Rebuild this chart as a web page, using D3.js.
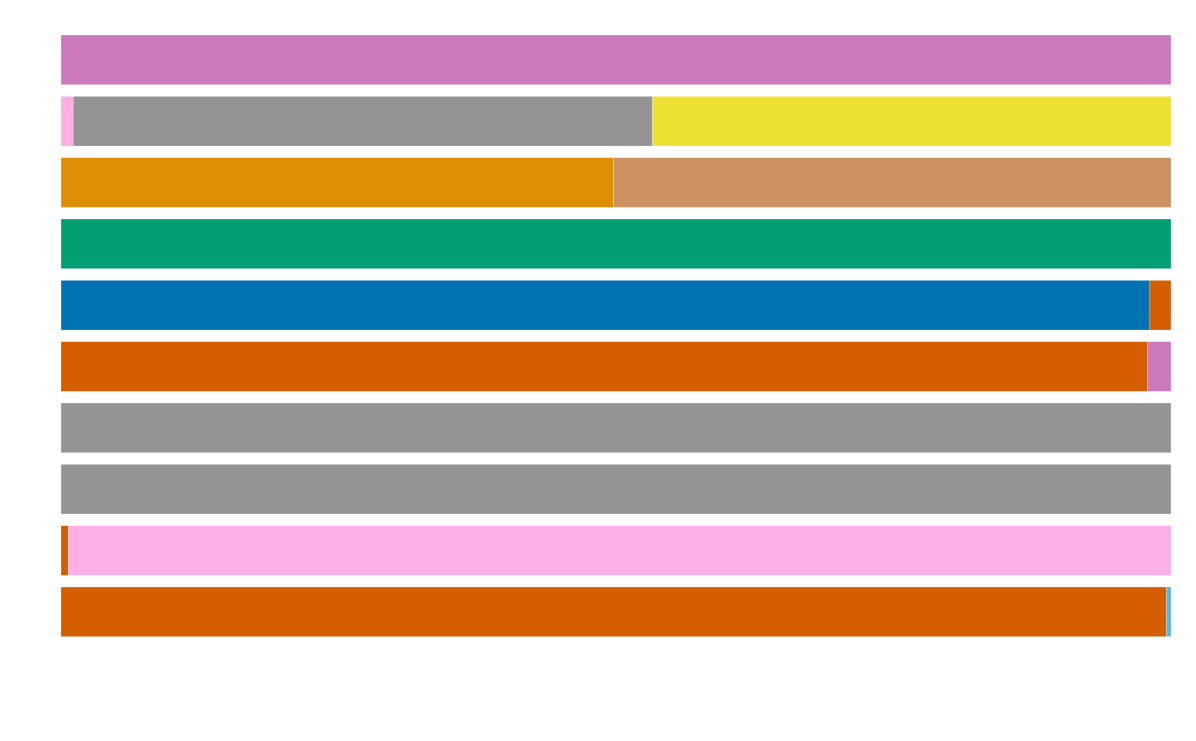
<!DOCTYPE html>
<html>
<head>
<meta charset="utf-8">
<script src="https://cdn.jsdelivr.net/npm/d3@7"></script>
<style>
  html, body { margin: 0; padding: 0; background: #fff; }
  svg { display: block; }
</style>
</head>
<body>
<svg id="chart" width="1196" height="741"></svg>
<script>
// Categories (top to bottom)
const categories = ["C1", "C2", "C3", "C4", "C5", "C6", "C7", "C8", "C9", "C10"];
// Series (stack order, left to right)
const seriesKeys = ["blue", "orange", "tan", "green", "vermillion", "pink", "lightpink", "gray", "yellow", "skyblue"];
const seriesColors = ["#0173b2", "#de8f05", "#ca9161", "#029e73", "#d55e00", "#cc78bc", "#fbafe4", "#949494", "#ece133", "#56b4e9"];
// Share (%) of each series per category
const blue       = [0, 0, 0, 0, 98.1, 0, 0, 0, 0, 0];
const orange     = [0, 0, 49.8, 0, 0, 0, 0, 0, 0, 0];
const tan        = [0, 0, 50.2, 0, 0, 0, 0, 0, 0, 0];
const green      = [0, 0, 0, 100, 0, 0, 0, 0, 0, 0];
const vermillion = [0, 0, 0, 0, 1.9, 97.9, 0, 0, 0.65, 99.6];
const pink       = [100, 0, 0, 0, 0, 2.1, 0, 0, 0, 0];
const lightpink  = [0, 1.1, 0, 0, 0, 0, 0, 0, 99.35, 0];
const gray       = [0, 52.2, 0, 0, 0, 0, 100, 100, 0, 0];
const yellow     = [0, 46.7, 0, 0, 0, 0, 0, 0, 0, 0];
const skyblue    = [0, 0, 0, 0, 0, 0, 0, 0, 0, 0.4];

const seriesValues = { blue, orange, tan, green, vermillion, pink, lightpink, gray, yellow, skyblue };

const rows = categories.map((c, i) => {
  const r = { category: c };
  seriesKeys.forEach(k => { r[k] = seriesValues[k][i]; });
  return r;
});

const svg = d3.select("#chart");
const x = d3.scaleLinear().domain([0, 100]).range([61, 1171]);
const y = d3.scaleBand().domain(categories).range([29.2, 642.5]).paddingInner(0.19).paddingOuter(0.095);
const color = d3.scaleOrdinal().domain(seriesKeys).range(seriesColors);

const stacked = d3.stack().keys(seriesKeys)(rows);

svg.append("g")
  .selectAll("g")
  .data(stacked)
  .join("g")
  .attr("fill", d => color(d.key))
  .selectAll("rect")
  .data(d => d.filter(s => s[1] - s[0] > 0))
  .join("rect")
  .attr("x", d => x(d[0]))
  .attr("y", d => y(d.data.category))
  .attr("width", d => x(d[1]) - x(d[0]))
  .attr("height", y.bandwidth())
  .attr("stroke", "white")
  .attr("stroke-width", 0.4)
  .attr("stroke-opacity", 0.6);
</script>
</body>
</html>
